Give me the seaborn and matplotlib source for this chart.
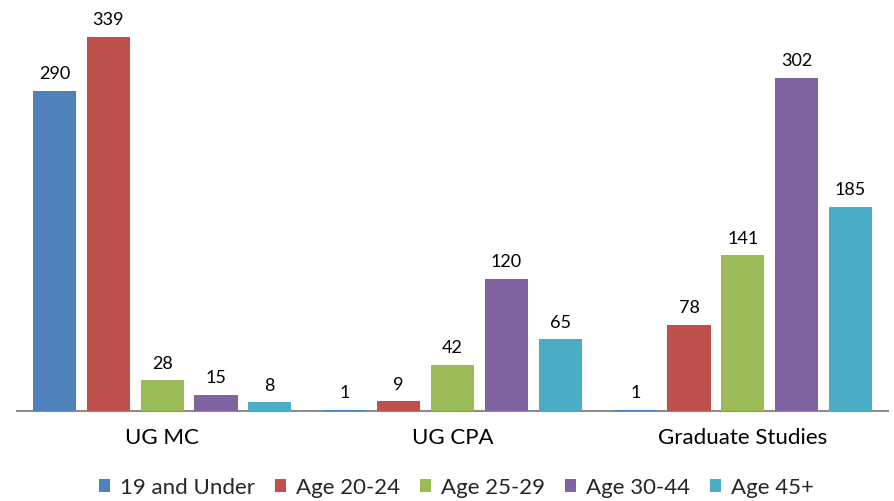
import matplotlib
matplotlib.use("Agg")
import matplotlib.pyplot as plt
import seaborn as sns
import pandas as pd

categories = ["UG MC", "UG CPA", "Graduate Studies"]
series = ["19 and Under", "Age 20-24", "Age 25-29", "Age 30-44", "Age 45+"]
values = {
    "19 and Under": [290, 1, 1],
    "Age 20-24": [339, 9, 78],
    "Age 25-29": [28, 42, 141],
    "Age 30-44": [15, 120, 302],
    "Age 45+": [8, 65, 185],
}
colors = ["#4F81BD", "#C0504D", "#9BBB59", "#8064A2", "#4BACC6"]

rows = []
for s in series:
    for c, v in zip(categories, values[s]):
        rows.append({"category": c, "series": s, "value": v})
df = pd.DataFrame(rows)

sns.set_theme(style="white")
plt.rcParams["font.family"] = ["Lato", "DejaVu Sans"]

fig = plt.figure(figsize=(8.94, 5.02), dpi=100)
ax = fig.add_axes([17 / 894, 89.7 / 502, 871 / 894, 397.8 / 502])

sns.barplot(data=df, x="category", y="value", hue="series",
            order=categories, hue_order=series, palette=colors,
            width=0.9267, gap=0.2, linewidth=0, saturation=1, ax=ax)

for cont in ax.containers:
    ax.bar_label(cont, padding=7, fontsize=13, color="#000000")

ax.set_xlim(-0.5, 2.5)
ax.set_ylim(0, 360)
ax.set_xlabel("")
ax.set_ylabel("")
ax.set_yticks([])
for side in ["left", "right", "top"]:
    ax.spines[side].set_visible(False)
ax.spines["bottom"].set_color("#8C8C8C")
ax.spines["bottom"].set_linewidth(1.5)
ax.spines["bottom"].set_zorder(0.5)
ax.tick_params(axis="x", length=0, pad=11, labelsize=16, labelcolor="#000000")

sns.move_legend(ax, "center", bbox_to_anchor=(456.5 / 894, 13.5 / 502),
                bbox_transform=fig.transFigure, ncol=5, frameon=False,
                title=None, fontsize=16, handlelength=0.5, handleheight=0.5,
                handletextpad=0.45, columnspacing=0.9)

fig.savefig("out.png", dpi=100)
